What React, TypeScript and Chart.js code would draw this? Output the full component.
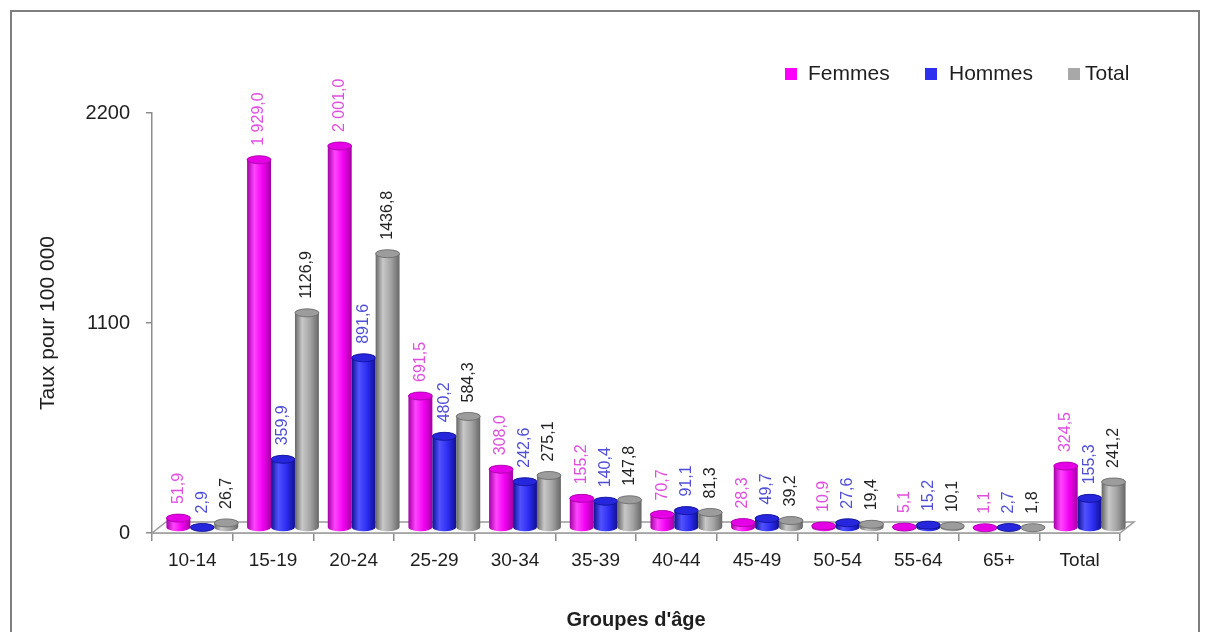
import React, { useEffect, useRef } from "react";
import { Chart, registerables } from "chart.js";

Chart.register(...registerables);

const categories = ["10-14", "15-19", "20-24", "25-29", "30-34", "35-39", "40-44", "45-49", "50-54", "55-64", "65+", "Total"];
const femmes = [51.9, 1929.0, 2001.0, 691.5, 308.0, 155.2, 70.7, 28.3, 10.9, 5.1, 1.1, 324.5];
const hommes = [2.9, 359.9, 891.6, 480.2, 242.6, 140.4, 91.1, 49.7, 27.6, 15.2, 2.7, 155.3];
const total = [26.7, 1126.9, 1436.8, 584.3, 275.1, 147.8, 81.3, 39.2, 19.4, 10.1, 1.8, 241.2];
const seriesNames = ["Femmes", "Hommes", "Total"];
const seriesGroupThousands = [true, false, false];
const yMin = 0;
const yMax = 2200;
const yStep = 1100;
const yTitle = "Taux pour 100 000";
const xTitle = "Groupes d'âge";

const FONT = "'Liberation Sans', Arial, Helvetica, sans-serif";

const palettes = [
  { edge: "#a300a3", mid: "#ff45ff", main: "#f200f2", top: "#e600e6", label: "#e04ee0", legend: "#ff00ff" },
  { edge: "#10108f", mid: "#5252ff", main: "#2c2cf2", top: "#2626dc", label: "#4f4fd6", legend: "#2f2fee" },
  { edge: "#676767", mid: "#c8c8c8", main: "#a2a2a2", top: "#9c9c9c", label: "#222222", legend: "#a8a8a8" },
];

function fmt(v: number, group: boolean): string {
  const s = v.toFixed(1).replace(".", ",");
  if (!group) return s;
  const [ip, dp] = s.split(",");
  const withSpace = ip.replace(/\B(?=(\d{3})+(?!\d))/g, " ");
  return withSpace + "," + dp;
}

const SHIFT_X = 10;
const SHIFT_Y = -5;
const RY = 4;

const cylinderPlugin = {
  id: "cylinders",
  beforeDatasetsDraw(chart: any) {
    const ctx: CanvasRenderingContext2D = chart.ctx;
    const xs = chart.scales.x;
    const ys = chart.scales.y;
    const front = ys.getPixelForValue(0);
    const l = xs.left;
    const r = xs.right;
    // floor
    ctx.save();
    ctx.beginPath();
    ctx.moveTo(l, front);
    ctx.lineTo(l + 14, front - 11);
    ctx.lineTo(r + 14, front - 11);
    ctx.lineTo(r, front);
    ctx.closePath();
    ctx.fillStyle = "#fbfbfb";
    ctx.fill();
    ctx.strokeStyle = "#9a9a9a";
    ctx.lineWidth = 1.5;
    ctx.stroke();
    ctx.restore();

    ctx.save();
    ctx.translate(SHIFT_X, SHIFT_Y);
    chart.data.datasets.forEach((ds: any, di: number) => {
      const meta = chart.getDatasetMeta(di);
      const p = palettes[di];
      meta.data.forEach((el: any) => {
        const x = el.x;
        const w = el.width;
        const top = el.y;
        const base = el.base;
        const left = x - w / 2;
        const right = x + w / 2;
        const g = ctx.createLinearGradient(left, 0, right, 0);
        g.addColorStop(0, p.edge);
        g.addColorStop(0.3, p.mid);
        g.addColorStop(0.65, p.main);
        g.addColorStop(1, p.edge);
        ctx.beginPath();
        ctx.moveTo(left, top);
        ctx.lineTo(left, base);
        ctx.ellipse(x, base, w / 2, RY, 0, Math.PI, 0, true);
        ctx.lineTo(right, top);
        ctx.ellipse(x, top, w / 2, RY, 0, 0, Math.PI, true);
        ctx.closePath();
        ctx.fillStyle = g;
        ctx.fill();
        // top cap
        ctx.beginPath();
        ctx.ellipse(x, top, w / 2, RY, 0, 0, Math.PI * 2);
        ctx.fillStyle = p.top;
        ctx.fill();
        ctx.strokeStyle = p.edge;
        ctx.lineWidth = 0.8;
        ctx.stroke();
      });
    });
    // value labels
    chart.data.datasets.forEach((ds: any, di: number) => {
      const meta = chart.getDatasetMeta(di);
      const p = palettes[di];
      meta.data.forEach((el: any, i: number) => {
        const v = ds.data[i];
        const txt = fmt(v, seriesGroupThousands[di]);
        ctx.save();
        ctx.translate(el.x, el.y - 14);
        ctx.rotate(-Math.PI / 2);
        ctx.font = `16px ${FONT}`;
        ctx.fillStyle = p.label;
        ctx.textAlign = "left";
        ctx.textBaseline = "middle";
        ctx.fillText(txt, 0, 0);
        ctx.restore();
      });
    });
    ctx.restore();
    return false;
  },
};

const legendPlugin = {
  id: "customLegend",
  afterDraw(chart: any) {
    const ctx: CanvasRenderingContext2D = chart.ctx;
    const boxX = [785, 925, 1068];
    const textX = [808, 949, 1085];
    const cy = 74;
    ctx.save();
    ctx.font = `21px ${FONT}`;
    ctx.textBaseline = "middle";
    ctx.textAlign = "left";
    seriesNames.forEach((name, i) => {
      ctx.fillStyle = palettes[i].legend;
      ctx.fillRect(boxX[i], cy - 6, 12, 12);
      ctx.fillStyle = "#1e1e1e";
      ctx.fillText(name, textX[i], cy);
    });
    ctx.restore();
  },
};

export default function App() {
  const ref = useRef<HTMLCanvasElement>(null);
  useEffect(() => {
    const series = [femmes, hommes, total];
    const chart = new Chart(ref.current as HTMLCanvasElement, {
      type: "bar",
      data: {
        labels: categories,
        datasets: series.map((d, i) => ({
          label: seriesNames[i],
          data: d,
          backgroundColor: palettes[i].legend,
          categoryPercentage: 0.89,
          barPercentage: 1,
        })),
      },
      options: {
        animation: false,
        responsive: false,
        layout: { padding: { left: 0, top: 113, right: 88, bottom: 0 } },
        plugins: {
          legend: { display: false },
          tooltip: { enabled: false },
        },
        scales: {
          x: {
            grid: { drawOnChartArea: false, drawTicks: true, tickLength: 8, color: "#8c8c8c", lineWidth: 1.5 },
            border: { display: true, color: "#8c8c8c", width: 1.5 },
            ticks: { color: "#1e1e1e", font: { family: FONT, size: 19 }, padding: 8, maxRotation: 0, autoSkip: false },
            title: { display: true, text: xTitle, color: "#1e1e1e", font: { family: FONT, size: 20, weight: "bold" }, padding: { top: 0, bottom: 0 } },
            afterFit: (s: any) => { s.height = 99; },
          },
          y: {
            min: yMin,
            max: yMax,
            grid: { drawOnChartArea: false, drawTicks: true, tickLength: 6, color: "#8c8c8c", lineWidth: 1.5 },
            border: { display: true, color: "#8c8c8c", width: 1.5 },
            ticks: {
              stepSize: yStep,
              color: "#1e1e1e",
              font: { family: FONT, size: 20 },
              padding: 16,
              callback: (v: any) => String(v),
            },
            title: { display: true, text: yTitle, color: "#1e1e1e", font: { family: FONT, size: 21 }, padding: { top: 36, bottom: 0 } },
            afterFit: (s: any) => { s.width = 152; },
          },
        },
      } as any,
      plugins: [cylinderPlugin, legendPlugin],
    });
    return () => chart.destroy();
  }, []);
  return (
    <div style={{ position: "fixed", left: 0, top: 0, width: 1208, height: 632, overflow: "hidden", background: "#ffffff" }}>
      <canvas ref={ref} width={1208} height={632} style={{ display: "block" }} />
      <div style={{ position: "absolute", left: 10, top: 10, width: 1186, height: 700, border: "2px solid #7e7e7e", pointerEvents: "none" }} />
    </div>
  );
}
